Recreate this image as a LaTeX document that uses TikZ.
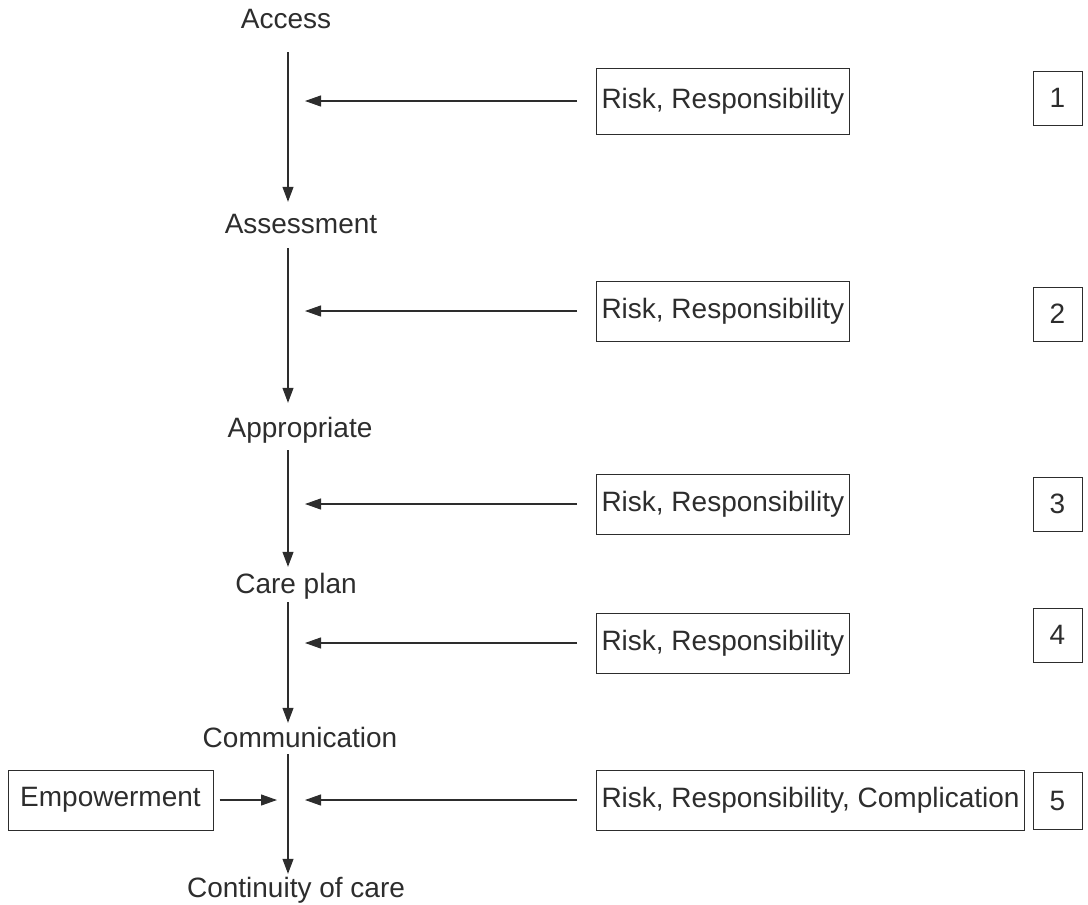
\documentclass[tikz,border=0pt]{standalone}
\usepackage{fontspec}
\setmainfont{Liberation Sans}
\usepackage{tikz}
\usetikzlibrary{
  arrows.meta,
  positioning,
  calc
}
\definecolor{ink}{RGB}{45,45,45}

\begin{document}
\begin{tikzpicture}[x=1pt, y=-1pt,
  every node/.style={font=\fontsize{28pt}{31pt}\selectfont, text=ink},
  flow/.style={inner sep=0pt, text height=19pt, text depth=6pt, anchor=base},
  riskbox/.style={draw=ink, line width=1pt, inner xsep=5pt, minimum width=252pt, minimum height=60pt, anchor=west},
  numbox/.style={draw=ink, line width=1pt, minimum width=49pt, minimum height=54pt},
  flowarrow/.style={draw=ink, line width=1.1pt, -{Triangle[length=15pt, width=11pt]}},
  feed/.style={draw=ink, line width=1.1pt, -{Triangle[length=16pt, width=11pt]}}]
                    \useasboundingbox (0,0) rectangle (1088,905);
                    \coordinate (spine) at (288,0);
                    \coordinate (tipx) at (305,0);
                    
                    % Flow labels
                    \node[flow] (access) at (286,28) {Access};
                    \node[flow] (assess) at (301,233) {Assessment};
                    \node[flow] (approp) at (300,437) {Appropriate};
                    \node[flow] (plan) at (296,593) {Care plan};
                    \node[flow] (comm) at (300,747) {Communication};
                    \node[flow] (cont) at (296,897) {Continuity of care};
                    
                    % Risk boxes
                    \node[riskbox, minimum height=66pt] (risk1) at (596,101) {Risk, Responsibility};
                    \node[riskbox] (risk2) at (596,311) {Risk, Responsibility};
                    \node[riskbox] (risk3) at (596,504) {Risk, Responsibility};
                    \node[riskbox] (risk4) at (596,643) {Risk, Responsibility};
                    \node[riskbox] (risk5) at (596,800) {Risk, Responsibility, Complication};
                    \node[draw=ink, line width=1pt, minimum width=205pt, minimum height=60pt] (empower) at (110.5,800) {Empowerment};
                    
                    % Step numbers
                    \node[numbox] (num1) at (1057.5,98) {1};
                    \node[numbox] (num2) at (1057.5,314) {2};
                    \node[numbox] (num3) at (1057.5,504) {3};
                    \node[numbox] (num4) at (1057.5,635) {4};
                    \node[numbox, minimum height=57pt] (num5) at (1057.5,800.5) {5};
                    
                    % Main flow
                    \draw[flowarrow, shorten <=18pt, shorten >=12pt] (access.south -| spine) -- (assess.north -| spine);
                    \draw[flowarrow, shorten <=9pt, shorten >=15pt] (assess.south -| spine) -- (approp.north -| spine);
                    \draw[flowarrow, shorten <=7pt, shorten >=7pt] (approp.south -| spine) -- (plan.north -| spine);
                    \draw[flowarrow, shorten <=3pt, shorten >=5pt] (plan.south -| spine) -- (comm.north -| spine);
                    \draw[flowarrow, shorten <=1pt, shorten >=4pt] (comm.south -| spine) -- (cont.north -| spine);
                    
                    % Inputs
                    \draw[feed, shorten <=19pt] (risk1.west) -- (risk1.west -| tipx);
                    \draw[feed, shorten <=19pt] (risk2.west) -- (risk2.west -| tipx);
                    \draw[feed, shorten <=19pt] (risk3.west) -- (risk3.west -| tipx);
                    \draw[feed, shorten <=19pt] (risk4.west) -- (risk4.west -| tipx);
                    \draw[feed, shorten <=19pt] (risk5.west) -- (risk5.west -| tipx);
                    \draw[feed, shorten <=6pt, shorten >=11pt] (empower.east) -- (empower.east -| spine);
                \end{tikzpicture}
\end{document}
